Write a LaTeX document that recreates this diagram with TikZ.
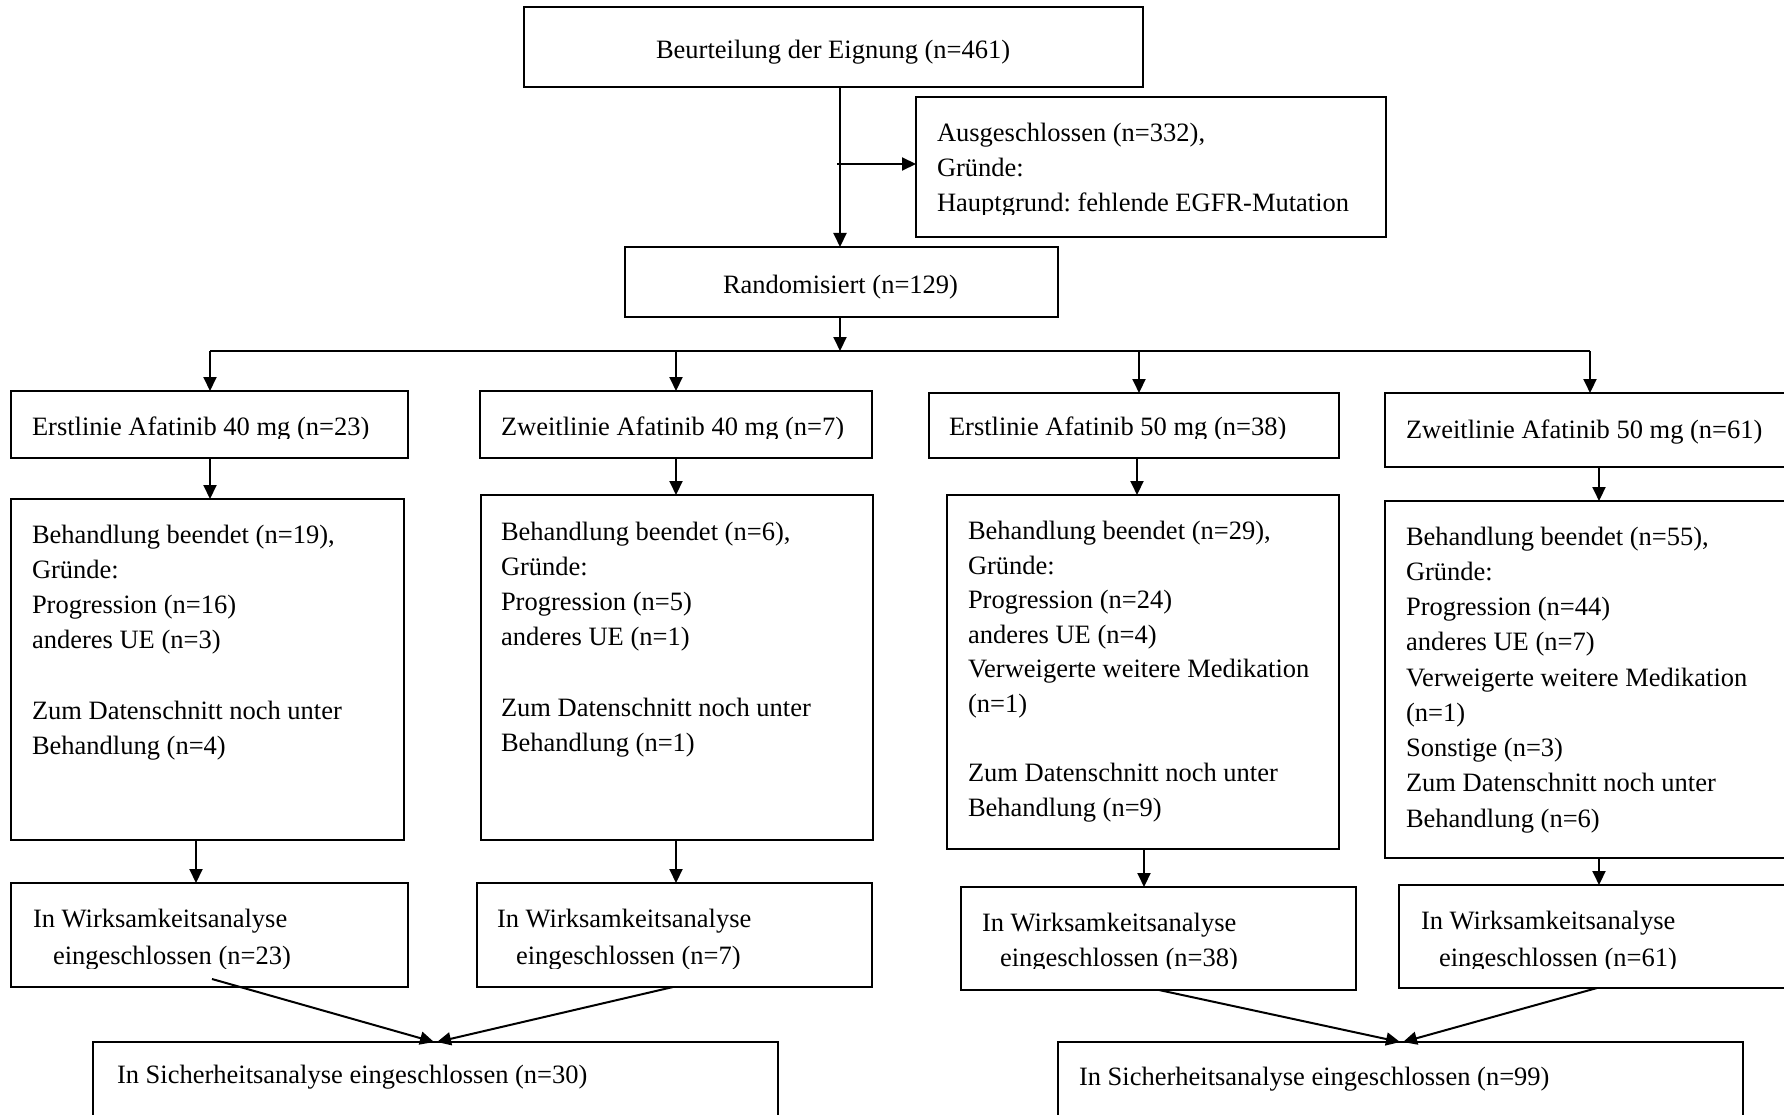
\documentclass[tikz,border=0pt]{standalone}
\usepackage{fontspec}
\setmainfont{Liberation Serif}
\usetikzlibrary{arrows.meta}
\frenchspacing
\begin{document}
\begin{tikzpicture}[x=1pt,y=-1pt,
  box/.style={draw, line width=2pt, inner sep=0pt, outer sep=0pt, anchor=north west},
  txt/.style={inner sep=0pt, outer sep=0pt, anchor=base west, font=\fontsize{26.5}{35.3}\selectfont\frenchspacing},
  arr/.style={line width=2pt, -{Triangle[length=14pt,width=13pt]}},
  ln/.style={line width=2pt}]
\useasboundingbox (0,0) rectangle (1784,1115);
\clip (0,0) rectangle (1784,1115);
% boxes
\node[box, minimum width=619pt, minimum height=80pt] (top) at (524,7) {};
\node[box, minimum width=470pt, minimum height=140pt] (excl) at (916,97) {};
\node[box, minimum width=433pt, minimum height=70pt] (rand) at (625,247) {};
\node[box, minimum width=397pt, minimum height=67pt] (A1) at (11,391) {};
\node[box, minimum width=392pt, minimum height=67pt] (B1) at (480,391) {};
\node[box, minimum width=410pt, minimum height=65pt] (C1) at (929,393) {};
\node[box, minimum width=420pt, minimum height=74pt] (D1) at (1385,393) {};
\node[box, minimum width=393pt, minimum height=341pt] (A2) at (11,499) {};
\node[box, minimum width=392pt, minimum height=345pt] (B2) at (481,495) {};
\node[box, minimum width=392pt, minimum height=354pt] (C2) at (947,495) {};
\node[box, minimum width=420pt, minimum height=357pt] (D2) at (1385,501) {};
\node[box, minimum width=397pt, minimum height=104pt] (A3) at (11,883) {};
\node[box, minimum width=395pt, minimum height=104pt] (B3) at (477,883) {};
\node[box, minimum width=395pt, minimum height=103pt] (C3) at (961,887) {};
\node[box, minimum width=410pt, minimum height=103pt] (D3) at (1399,885) {};
\node[box, minimum width=685pt, minimum height=100pt] (S1) at (93,1042) {};
\node[box, minimum width=685pt, minimum height=100pt] (S2) at (1058,1042) {};
% texts
\node[txt] (tTop) at (656,59) {Beurteilung der Eignung (n=461)};
\node[txt] (tRand) at (723,293) {Randomisiert (n=129)};
\begin{scope}
\clip (916,97) rectangle (1386,215);
\node[txt] (tExcl) at (937,142) {\vtop{\baselineskip=35pt\hbox{Ausgeschlossen (n=332),}\hbox{Gründe:}\hbox{Hauptgrund: fehlende EGFR-Mutation}}};
\end{scope}
\begin{scope}
\clip (0,391) rectangle (1384,438);
\node[txt] (tA1) at (32,435) {Erstlinie Afatinib 40 mg (n=23)};
\node[txt] (tB1) at (501,435) {Zweitlinie Afatinib 40 mg (n=7)};
\node[txt] (tC1) at (949,435) {Erstlinie Afatinib 50 mg (n=38)};
\end{scope}
\node[txt] (tD1) at (1406,438) {Zweitlinie Afatinib 50 mg (n=61)};
\node[txt] (tA2) at (32,543) {\vtop{\hbox{Behandlung beendet (n=19),}\hbox{Gründe:}\hbox{Progression (n=16)}\hbox{anderes UE (n=3)}\hbox{}\hbox{Zum Datenschnitt noch unter}\hbox{Behandlung (n=4)}}};
\node[txt] (tB2) at (501,540) {\vtop{\hbox{Behandlung beendet (n=6),}\hbox{Gründe:}\hbox{Progression (n=5)}\hbox{anderes UE (n=1)}\hbox{}\hbox{Zum Datenschnitt noch unter}\hbox{Behandlung (n=1)}}};
\node[txt] (tC2) at (968,539.5) {\vtop{\baselineskip=34.6pt\hbox{Behandlung beendet (n=29),}\hbox{Gründe:}\hbox{Progression (n=24)}\hbox{anderes UE (n=4)}\hbox{Verweigerte weitere Medikation}\hbox{(n=1)}\hbox{}\hbox{Zum Datenschnitt noch unter}\hbox{Behandlung (n=9)}}};
\node[txt] (tD2) at (1406,545) {\vtop{\baselineskip=35.25pt\hbox{Behandlung beendet (n=55),}\hbox{Gründe:}\hbox{Progression (n=44)}\hbox{anderes UE (n=7)}\hbox{Verweigerte weitere Medikation}\hbox{(n=1)}\hbox{Sonstige (n=3)}\hbox{Zum Datenschnitt noch unter}\hbox{Behandlung (n=6)}}};
\begin{scope}
\clip (0,883) rectangle (1784,968);
\node[txt] (tA3) at (33,927) {\vtop{\baselineskip=37pt\hbox{In Wirksamkeitsanalyse}\hbox{\hspace{20pt}eingeschlossen (n=23)}}};
\node[txt] (tB3) at (497,927) {\vtop{\baselineskip=37pt\hbox{In Wirksamkeitsanalyse}\hbox{\hspace{19pt}eingeschlossen (n=7)}}};
\node[txt] (tC3) at (982,931) {\vtop{\baselineskip=35pt\hbox{In Wirksamkeitsanalyse}\hbox{\hspace{18pt}eingeschlossen (n=38)}}};
\node[txt] (tD3) at (1421,929) {\vtop{\baselineskip=37pt\hbox{In Wirksamkeitsanalyse}\hbox{\hspace{18pt}eingeschlossen (n=61)}}};
\end{scope}
\node[txt] (tS1) at (117,1083) {In Sicherheitsanalyse eingeschlossen (n=30)};
\node[txt] (tS2) at (1079,1085) {In Sicherheitsanalyse eingeschlossen (n=99)};
% helper coordinates
\coordinate (xm) at (840,0);
\coordinate (br) at (837,164);
\coordinate (bus) at (0,351);
\coordinate (xA) at (210,0);
\coordinate (xB) at (676,0);
\coordinate (xC) at (1139,0);
\coordinate (xD) at (1590,0);
\coordinate (xC2) at (1137,0);
\coordinate (xD2) at (1599,0);
\coordinate (xA3) at (196,0);
\coordinate (xC3) at (1144,0);
\coordinate (a3o) at (212,979);
\coordinate (b3o) at (673,0);
\coordinate (c3o) at (1159,0);
\coordinate (d3o) at (1597,0);
\coordinate (s1l) at (434,0);
\coordinate (s1r) at (437,0);
\coordinate (s2l) at (1400,0);
\coordinate (s2r) at (1403,0);
% connectors
\draw[arr] (top.south -| xm) -- (rand.north -| xm);
\draw[arr] (br) -- (excl.west |- br);
\draw[arr] (rand.south -| xm) -- (bus -| xm);
\draw[ln] (bus -| xA) -- (bus -| xD);
\draw[arr] (bus -| xA) -- (A1.north -| xA);
\draw[arr] (bus -| xB) -- (B1.north -| xB);
\draw[arr] (bus -| xC) -- (C1.north -| xC);
\draw[arr] (bus -| xD) -- (D1.north -| xD);
\draw[arr] (A1.south -| xA) -- (A2.north -| xA);
\draw[arr] (B1.south -| xB) -- (B2.north -| xB);
\draw[arr] (C1.south -| xC2) -- (C2.north -| xC2);
\draw[arr] (D1.south -| xD2) -- (D2.north -| xD2);
\draw[arr] (A2.south -| xA3) -- (A3.north -| xA3);
\draw[arr] (B2.south -| xB) -- (B3.north -| xB);
\draw[arr] (C2.south -| xC3) -- (C3.north -| xC3);
\draw[arr] (D2.south -| xD2) -- (D3.north -| xD2);
\draw[arr] (a3o) -- (S1.north -| s1l);
\draw[arr] (B3.south -| b3o) -- (S1.north -| s1r);
\draw[arr] (C3.south -| c3o) -- (S2.north -| s2l);
\draw[arr] (D3.south -| d3o) -- (S2.north -| s2r);
\end{tikzpicture}
\end{document}
